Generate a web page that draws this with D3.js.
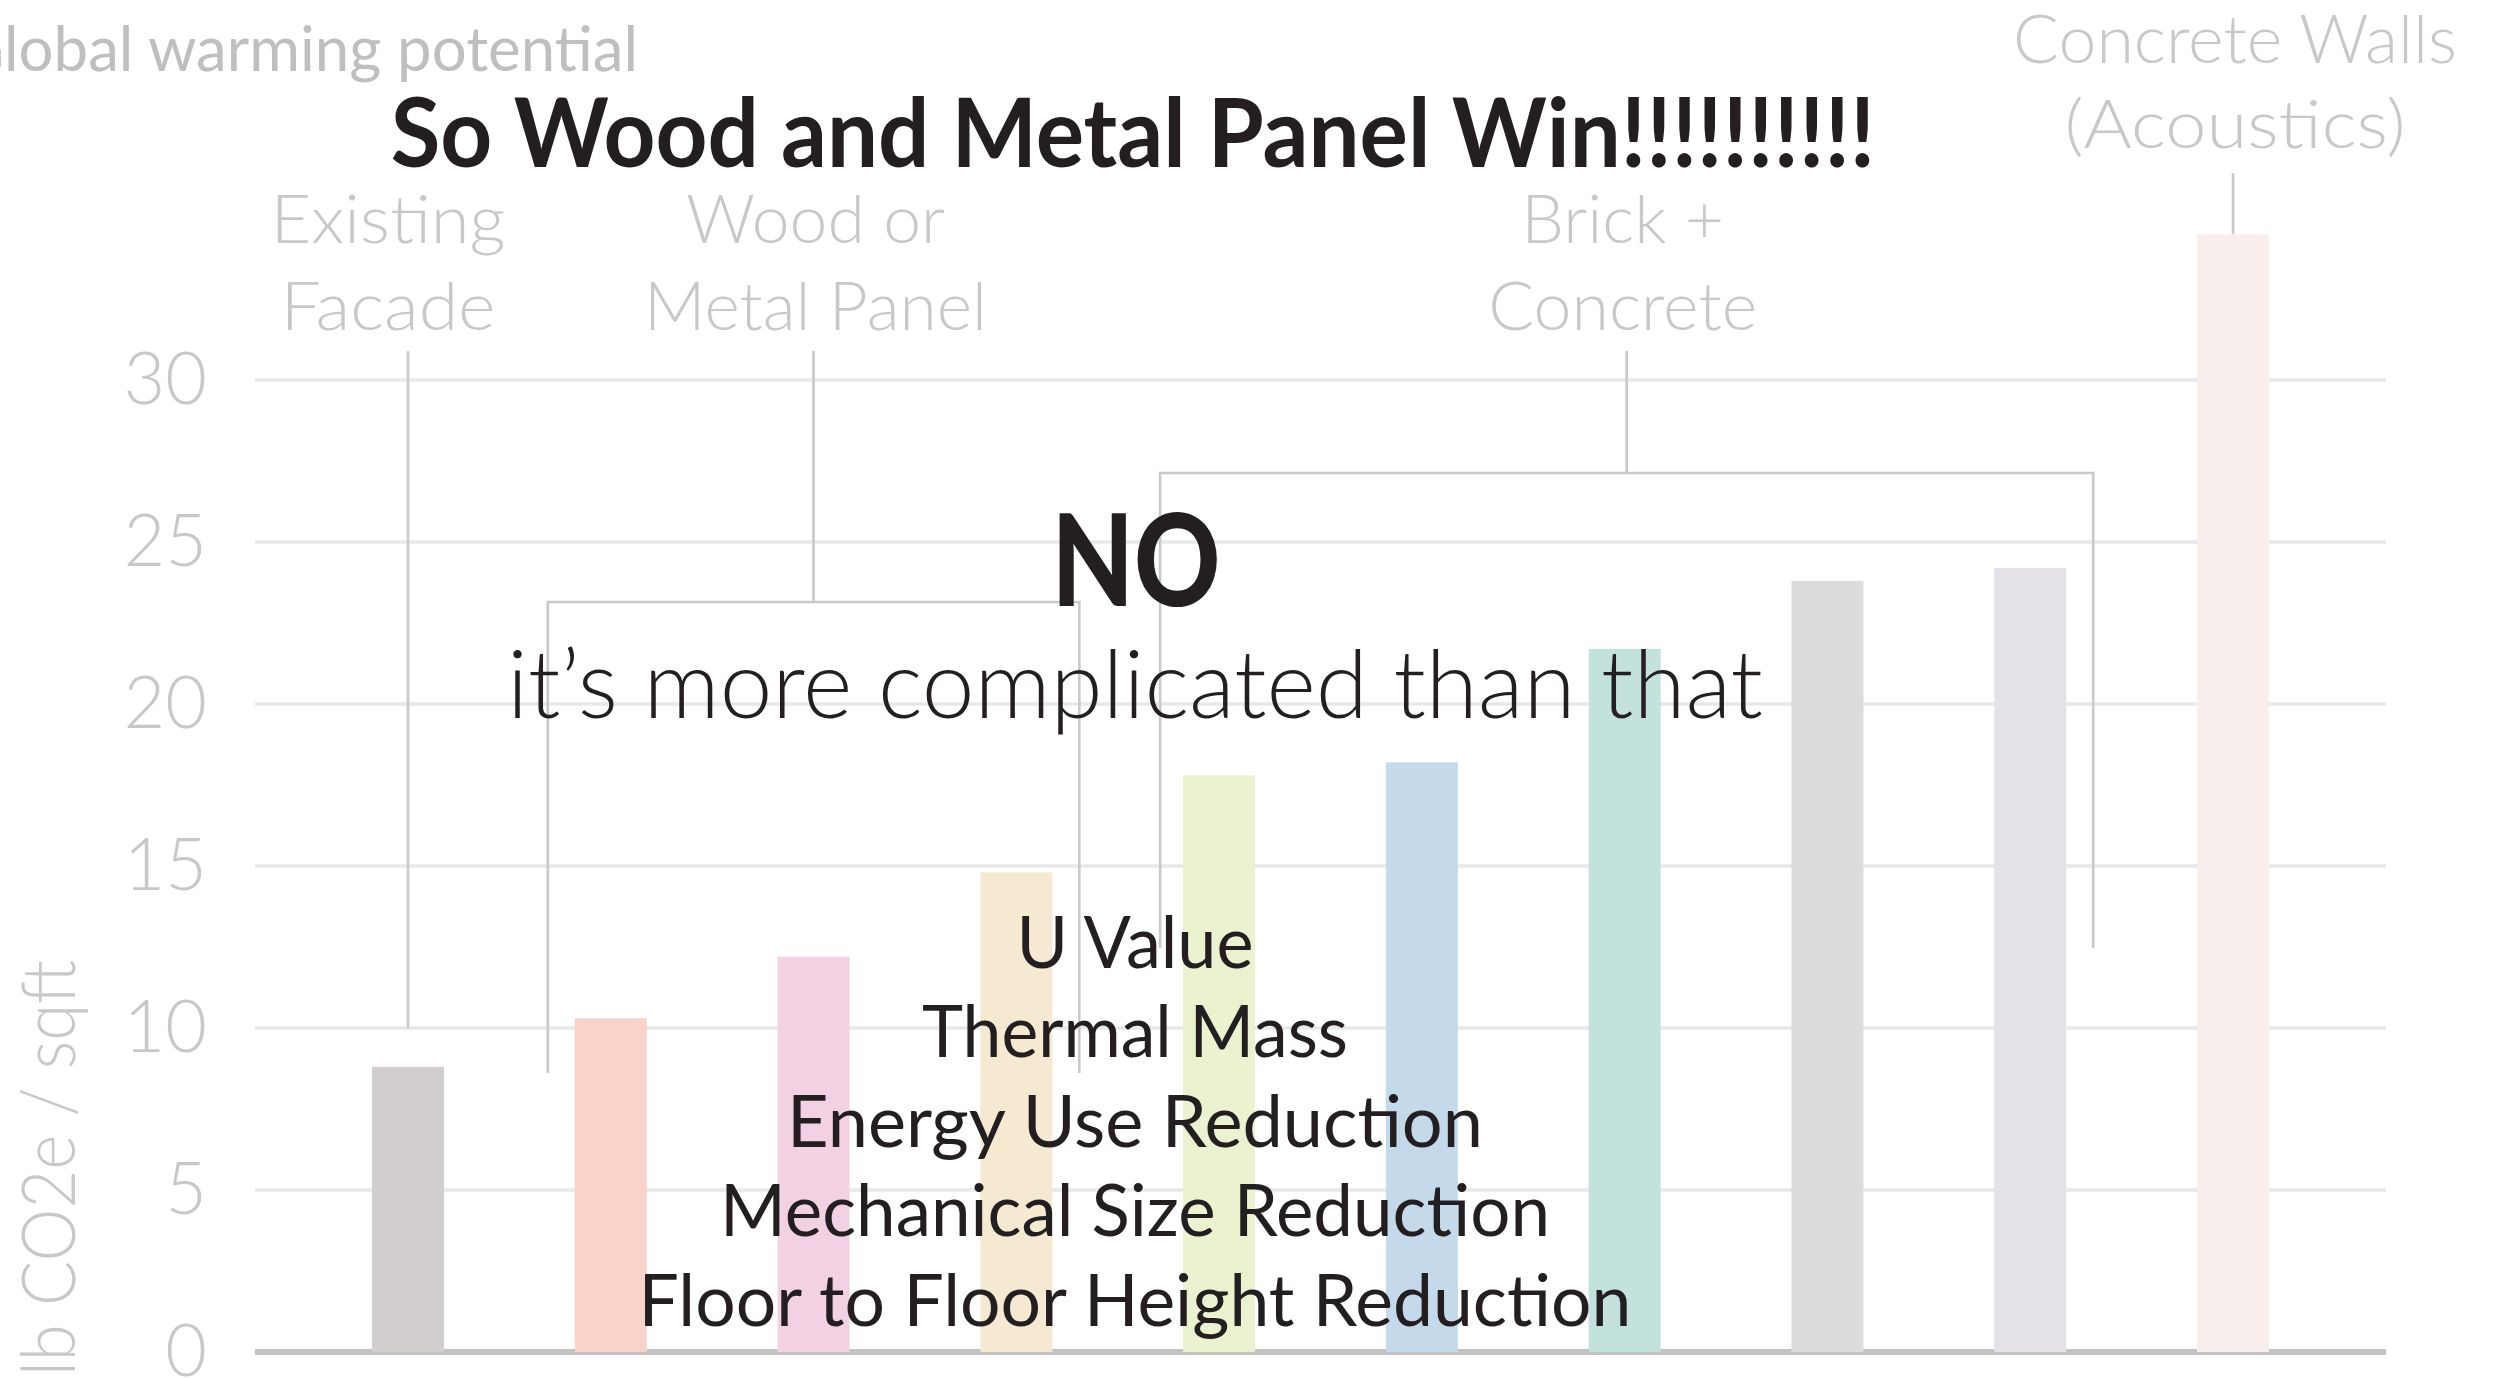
<!DOCTYPE html>
<html>
<head>
<meta charset="utf-8">
<script src="https://cdn.jsdelivr.net/npm/d3@7"></script>
<style>
  html, body { margin: 0; padding: 0; background: #ffffff; overflow: hidden; }
  svg { display: block; }
</style>
</head>
<body>
<svg id="chart" width="2499" height="1378"></svg>
<script>
// ---- data ----
const categories = ["Option 1", "Option 2", "Option 3", "Option 4", "Option 5",
                    "Option 6", "Option 7", "Option 8", "Option 9", "Option 10"];
const values = [8.8, 10.3, 12.2, 14.8, 17.8, 18.2, 21.7, 23.8, 24.2, 34.5];
const barColors = ["#d2cecd", "#f9d3c9", "#f2d2e2", "#f5e9d1", "#eaf2d0",
                   "#c4d9e9", "#c3e2dc", "#dcdcdc", "#e5e1e9", "#f8efec"];
const yTicks = [0, 5, 10, 15, 20, 25, 30];
const groupLabels = [["Existing", "Facade"], ["Wood or", "Metal Panel"],
                     ["Brick +", "Concrete"], ["Concrete Walls", "(Acoustics)"]];
const groupSpans = [[0, 0], [1, 3], [4, 8], [9, 9]];
const chartTitle = "Global warming potential";
const axisTitle = "lb CO2e / sqft";
const headline = "So Wood and Metal Panel Win!!!!!!!!!!";
const answer = "NO";
const caveat = "it’s more complicated than that";
const factors = ["U Value", "Thermal Mass", "Energy Use Reduction",
                 "Mechanical Size Reduction", "Floor to Floor Height Reduction"];

// ---- layout ----
const svg = d3.select("#chart");
const FONT = "Lato, 'Open Sans', sans-serif";
const GREY_TEXT = "#c8c8c8";
const DARK = "#231f20";
const LINE = "#c9c9c9";

const x = d3.scaleBand().domain(categories)
  .range([255, 2386]).paddingInner(0.645).paddingOuter(0.577);
const y = d3.scaleLinear().domain([0, 30]).range([1352, 380]);

// draws a text line, squeezing it horizontally to a given width
function fitText(parent, str, o) {
  const t = parent.append("text")
    .attr("font-family", FONT)
    .attr("font-size", o.size)
    .attr("font-weight", o.weight)
    .attr("fill", o.fill)
    .attr("text-anchor", o.anchor || "middle")
    .text(str);
  const w = t.node().getComputedTextLength();
  const sx = o.width ? o.width / w : 1;
  t.attr("transform", `translate(${o.x},${o.y}) ${o.rotate ? "rotate(" + o.rotate + ")" : ""} scale(${sx},1)`);
  return t;
}

// ---- gridlines ----
svg.append("g").selectAll("line")
  .data(yTicks.filter(d => d > 0))
  .join("line")
  .attr("x1", 255).attr("x2", 2386)
  .attr("y1", d => y(d)).attr("y2", d => y(d))
  .attr("stroke", "#e8e8e8").attr("stroke-width", 3.5);

// baseline
svg.append("line")
  .attr("x1", 255).attr("x2", 2386)
  .attr("y1", y(0)).attr("y2", y(0))
  .attr("stroke", "#c2c2c2").attr("stroke-width", 6);

// ---- y axis labels ----
const yAxis = d3.axisLeft(y).tickValues(yTicks).tickSize(0).tickPadding(48);
const ga = svg.append("g").attr("transform", "translate(255,0)").call(yAxis);
ga.select(".domain").remove();
ga.selectAll("text")
  .attr("font-family", FONT)
  .attr("font-weight", 300)
  .attr("font-size", 72)
  .attr("fill", GREY_TEXT)
  .attr("dy", "0.32em");

// axis title (rotated)
fitText(svg, axisTitle, {x: 75, y: 960, size: 74, weight: 300, fill: GREY_TEXT,
  anchor: "end", rotate: -90, width: 416});

// ---- bars ----
svg.append("g").selectAll("rect")
  .data(values)
  .join("rect")
  .attr("x", (d, i) => x(categories[i]))
  .attr("width", x.bandwidth())
  .attr("y", d => y(d))
  .attr("height", d => y(0) - y(d))
  .attr("fill", (d, i) => barColors[i]);

// ---- group annotations ----
const bw = x.bandwidth();
const reach = 27;
const annotLayout = [
  {stemTop: 351, legEnd: 1028, labelDx: -20, lineY: [243, 330], widths: [235, 215]},
  {stemTop: 351, bracketY: 602, legEnd: 1073, labelDx: 2, lineY: [243, 330], widths: [259, 343]},
  {stemTop: 351, bracketY: 473, legEnd: 948, labelDx: -4, lineY: [243, 330], widths: [203, 269]},
  {stemTop: 173, toBar: true, labelDx: 2, lineY: [63, 148], widths: [444, 341]}
];
const gl = svg.append("g").attr("stroke", LINE).attr("stroke-width", 2.6).attr("fill", "none");
const glText = svg.append("g");
groupSpans.forEach((span, k) => {
  const L = annotLayout[k];
  const first = categories[span[0]], last = categories[span[1]];
  let cx;
  if (span[0] === span[1]) {
    cx = x(first) + bw / 2;
    const end = L.toBar ? y(values[span[0]]) : L.legEnd;
    gl.append("line").attr("x1", cx).attr("x2", cx).attr("y1", L.stemTop).attr("y2", end);
  } else {
    const left = x(first) - reach + (k === 2 ? 4 : 0), right = x(last) + bw + reach;
    cx = (left + right) / 2;
    gl.append("path").attr("d",
      `M${left},${L.legEnd}V${L.bracketY}H${right}V${L.legEnd}M${cx},${L.bracketY}V${L.stemTop}`);
  }
  groupLabels[k].forEach((line, j) => {
    fitText(glText, line, {x: cx + L.labelDx, y: L.lineY[j], size: 67, weight: 300,
      fill: GREY_TEXT, width: L.widths[j]});
  });
});

// ---- headings ----
// chart title, its first letter running off the left edge
(function () {
  const t = svg.append("text")
    .attr("font-family", FONT).attr("font-size", 62).attr("font-weight", 400)
    .attr("fill", "#bfbfbf").attr("text-anchor", "start")
    .text(chartTitle);
  const node = t.node();
  const n = chartTitle.length;
  const secondStart = node.getStartPositionOfChar(1).x;
  const rest = node.getComputedTextLength() - secondStart;
  const sx = 634 / rest;
  t.attr("transform", `translate(${4 - secondStart * sx},71) scale(${sx},1)`);
})();

fitText(svg, headline, {x: 1133, y: 167, size: 96, weight: 700, fill: DARK, width: 1485});
fitText(svg, answer, {x: 1136, y: 606, size: 127, weight: 900, fill: DARK, width: 169});
fitText(svg, caveat, {x: 1135, y: 718, size: 94, weight: 300, fill: DARK, width: 1256});

const factorWidths = [237, 426, 696, 830, 993];
const factorY = [968, 1057, 1147, 1236, 1326];
factors.forEach((f, i) => {
  fitText(svg, f, {x: 1135, y: factorY[i], size: 72, weight: 400, fill: DARK, width: factorWidths[i]});
});
</script>
</body>
</html>
